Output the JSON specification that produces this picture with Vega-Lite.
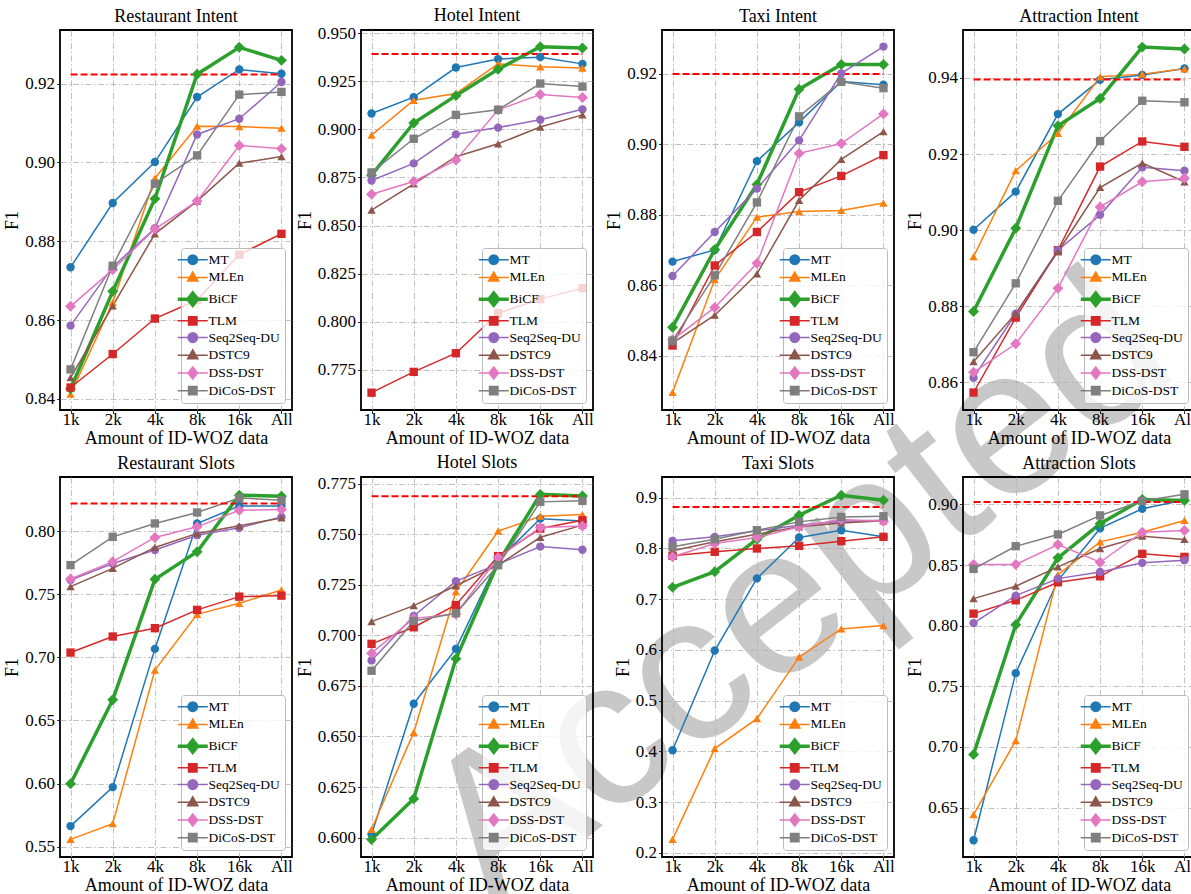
{
"$schema": "https://vega.github.io/schema/vega-lite/v6.json",
"background": "white",
"padding": {"left": 2, "top": 6, "right": 0, "bottom": 0},
"columns": 4,
"bounds": "flush",
"spacing": {"row": 67, "column": 69},
"resolve": {"legend": {"color": "independent"}},
"datasets": {
"refs": [
{"panel":"RI","f1":0.9223},{"panel":"HI","f1":0.9391},{"panel":"TI","f1":0.9199},{"panel":"AI","f1":0.9396},
{"panel":"RS","f1":0.8219},{"panel":"HS","f1":0.7688},{"panel":"TS","f1":0.8817},{"panel":"AS","f1":0.9019}
],
"scores": [
{"panel":"RI","model":"MT","size":"1k","f1":0.8734},{"panel":"RI","model":"MT","size":"2k","f1":0.8897},{"panel":"RI","model":"MT","size":"4k","f1":0.9001},{"panel":"RI","model":"MT","size":"8k","f1":0.9166},{"panel":"RI","model":"MT","size":"16k","f1":0.9236},{"panel":"RI","model":"MT","size":"All","f1":0.9225},
{"panel":"RI","model":"MLEn","size":"1k","f1":0.8412},{"panel":"RI","model":"MLEn","size":"2k","f1":0.8645},{"panel":"RI","model":"MLEn","size":"4k","f1":0.8960},{"panel":"RI","model":"MLEn","size":"8k","f1":0.9092},{"panel":"RI","model":"MLEn","size":"16k","f1":0.9091},{"panel":"RI","model":"MLEn","size":"All","f1":0.9087},
{"panel":"RI","model":"BiCF","size":"1k","f1":0.8426},{"panel":"RI","model":"BiCF","size":"2k","f1":0.8673},{"panel":"RI","model":"BiCF","size":"4k","f1":0.8908},{"panel":"RI","model":"BiCF","size":"8k","f1":0.9224},{"panel":"RI","model":"BiCF","size":"16k","f1":0.9292},{"panel":"RI","model":"BiCF","size":"All","f1":0.9259},
{"panel":"RI","model":"TLM","size":"1k","f1":0.8429},{"panel":"RI","model":"TLM","size":"2k","f1":0.8514},{"panel":"RI","model":"TLM","size":"4k","f1":0.8604},{"panel":"RI","model":"TLM","size":"8k","f1":0.8651},{"panel":"RI","model":"TLM","size":"16k","f1":0.8766},{"panel":"RI","model":"TLM","size":"All","f1":0.8819},
{"panel":"RI","model":"Seq2Seq-DU","size":"1k","f1":0.8586},{"panel":"RI","model":"Seq2Seq-DU","size":"2k","f1":0.8735},{"panel":"RI","model":"Seq2Seq-DU","size":"4k","f1":0.8833},{"panel":"RI","model":"Seq2Seq-DU","size":"8k","f1":0.9071},{"panel":"RI","model":"Seq2Seq-DU","size":"16k","f1":0.9111},{"panel":"RI","model":"Seq2Seq-DU","size":"All","f1":0.9204},
{"panel":"RI","model":"DSTC9","size":"1k","f1":0.8454},{"panel":"RI","model":"DSTC9","size":"2k","f1":0.8636},{"panel":"RI","model":"DSTC9","size":"4k","f1":0.8819},{"panel":"RI","model":"DSTC9","size":"8k","f1":0.8902},{"panel":"RI","model":"DSTC9","size":"16k","f1":0.8998},{"panel":"RI","model":"DSTC9","size":"All","f1":0.9015},
{"panel":"RI","model":"DSS-DST","size":"1k","f1":0.8635},{"panel":"RI","model":"DSS-DST","size":"2k","f1":0.8728},{"panel":"RI","model":"DSS-DST","size":"4k","f1":0.8831},{"panel":"RI","model":"DSS-DST","size":"8k","f1":0.8902},{"panel":"RI","model":"DSS-DST","size":"16k","f1":0.9043},{"panel":"RI","model":"DSS-DST","size":"All","f1":0.9035},
{"panel":"RI","model":"DiCoS-DST","size":"1k","f1":0.8475},{"panel":"RI","model":"DiCoS-DST","size":"2k","f1":0.8738},{"panel":"RI","model":"DiCoS-DST","size":"4k","f1":0.8946},{"panel":"RI","model":"DiCoS-DST","size":"8k","f1":0.9018},{"panel":"RI","model":"DiCoS-DST","size":"16k","f1":0.9172},{"panel":"RI","model":"DiCoS-DST","size":"All","f1":0.9179},

{"panel":"HI","model":"MT","size":"1k","f1":0.9082},{"panel":"HI","model":"MT","size":"2k","f1":0.9167},{"panel":"HI","model":"MT","size":"4k","f1":0.9321},{"panel":"HI","model":"MT","size":"8k","f1":0.9365},{"panel":"HI","model":"MT","size":"16k","f1":0.9375},{"panel":"HI","model":"MT","size":"All","f1":0.9340},
{"panel":"HI","model":"MLEn","size":"1k","f1":0.8970},{"panel":"HI","model":"MLEn","size":"2k","f1":0.9151},{"panel":"HI","model":"MLEn","size":"4k","f1":0.9186},{"panel":"HI","model":"MLEn","size":"8k","f1":0.9340},{"panel":"HI","model":"MLEn","size":"16k","f1":0.9325},{"panel":"HI","model":"MLEn","size":"All","f1":0.9318},
{"panel":"HI","model":"BiCF","size":"1k","f1":0.8762},{"panel":"HI","model":"BiCF","size":"2k","f1":0.9033},{"panel":"HI","model":"BiCF","size":"4k","f1":0.9175},{"panel":"HI","model":"BiCF","size":"8k","f1":0.9312},{"panel":"HI","model":"BiCF","size":"16k","f1":0.9429},{"panel":"HI","model":"BiCF","size":"All","f1":0.9422},
{"panel":"HI","model":"TLM","size":"1k","f1":0.7632},{"panel":"HI","model":"TLM","size":"2k","f1":0.7740},{"panel":"HI","model":"TLM","size":"4k","f1":0.7837},{"panel":"HI","model":"TLM","size":"8k","f1":0.8045},{"panel":"HI","model":"TLM","size":"16k","f1":0.8118},{"panel":"HI","model":"TLM","size":"All","f1":0.8175},
{"panel":"HI","model":"Seq2Seq-DU","size":"1k","f1":0.8734},{"panel":"HI","model":"Seq2Seq-DU","size":"2k","f1":0.8823},{"panel":"HI","model":"Seq2Seq-DU","size":"4k","f1":0.8974},{"panel":"HI","model":"Seq2Seq-DU","size":"8k","f1":0.9009},{"panel":"HI","model":"Seq2Seq-DU","size":"16k","f1":0.9050},{"panel":"HI","model":"Seq2Seq-DU","size":"All","f1":0.9104},
{"panel":"HI","model":"DSTC9","size":"1k","f1":0.8580},{"panel":"HI","model":"DSTC9","size":"2k","f1":0.8717},{"panel":"HI","model":"DSTC9","size":"4k","f1":0.8858},{"panel":"HI","model":"DSTC9","size":"8k","f1":0.8925},{"panel":"HI","model":"DSTC9","size":"16k","f1":0.9012},{"panel":"HI","model":"DSTC9","size":"All","f1":0.9075},
{"panel":"HI","model":"DSS-DST","size":"1k","f1":0.8663},{"panel":"HI","model":"DSS-DST","size":"2k","f1":0.8729},{"panel":"HI","model":"DSS-DST","size":"4k","f1":0.8840},{"panel":"HI","model":"DSS-DST","size":"8k","f1":0.9101},{"panel":"HI","model":"DSS-DST","size":"16k","f1":0.9181},{"panel":"HI","model":"DSS-DST","size":"All","f1":0.9165},
{"panel":"HI","model":"DiCoS-DST","size":"1k","f1":0.8776},{"panel":"HI","model":"DiCoS-DST","size":"2k","f1":0.8951},{"panel":"HI","model":"DiCoS-DST","size":"4k","f1":0.9075},{"panel":"HI","model":"DiCoS-DST","size":"8k","f1":0.9102},{"panel":"HI","model":"DiCoS-DST","size":"16k","f1":0.9238},{"panel":"HI","model":"DiCoS-DST","size":"All","f1":0.9222},

{"panel":"TI","model":"MT","size":"1k","f1":0.8667},{"panel":"TI","model":"MT","size":"2k","f1":0.8700},{"panel":"TI","model":"MT","size":"4k","f1":0.8952},{"panel":"TI","model":"MT","size":"8k","f1":0.9062},{"panel":"TI","model":"MT","size":"16k","f1":0.9178},{"panel":"TI","model":"MT","size":"All","f1":0.9169},
{"panel":"TI","model":"MLEn","size":"1k","f1":0.8296},{"panel":"TI","model":"MLEn","size":"2k","f1":0.8616},{"panel":"TI","model":"MLEn","size":"4k","f1":0.8793},{"panel":"TI","model":"MLEn","size":"8k","f1":0.8809},{"panel":"TI","model":"MLEn","size":"16k","f1":0.8812},{"panel":"TI","model":"MLEn","size":"All","f1":0.8833},
{"panel":"TI","model":"BiCF","size":"1k","f1":0.8481},{"panel":"TI","model":"BiCF","size":"2k","f1":0.8701},{"panel":"TI","model":"BiCF","size":"4k","f1":0.8886},{"panel":"TI","model":"BiCF","size":"8k","f1":0.9156},{"panel":"TI","model":"BiCF","size":"16k","f1":0.9226},{"panel":"TI","model":"BiCF","size":"All","f1":0.9226},
{"panel":"TI","model":"TLM","size":"1k","f1":0.8429},{"panel":"TI","model":"TLM","size":"2k","f1":0.8656},{"panel":"TI","model":"TLM","size":"4k","f1":0.8751},{"panel":"TI","model":"TLM","size":"8k","f1":0.8864},{"panel":"TI","model":"TLM","size":"16k","f1":0.8910},{"panel":"TI","model":"TLM","size":"All","f1":0.8969},
{"panel":"TI","model":"Seq2Seq-DU","size":"1k","f1":0.8626},{"panel":"TI","model":"Seq2Seq-DU","size":"2k","f1":0.8751},{"panel":"TI","model":"Seq2Seq-DU","size":"4k","f1":0.8874},{"panel":"TI","model":"Seq2Seq-DU","size":"8k","f1":0.9011},{"panel":"TI","model":"Seq2Seq-DU","size":"16k","f1":0.9201},{"panel":"TI","model":"Seq2Seq-DU","size":"All","f1":0.9277},
{"panel":"TI","model":"DSTC9","size":"1k","f1":0.8436},{"panel":"TI","model":"DSTC9","size":"2k","f1":0.8515},{"panel":"TI","model":"DSTC9","size":"4k","f1":0.8632},{"panel":"TI","model":"DSTC9","size":"8k","f1":0.8841},{"panel":"TI","model":"DSTC9","size":"16k","f1":0.8957},{"panel":"TI","model":"DSTC9","size":"All","f1":0.9036},
{"panel":"TI","model":"DSS-DST","size":"1k","f1":0.8445},{"panel":"TI","model":"DSS-DST","size":"2k","f1":0.8537},{"panel":"TI","model":"DSS-DST","size":"4k","f1":0.8662},{"panel":"TI","model":"DSS-DST","size":"8k","f1":0.8974},{"panel":"TI","model":"DSS-DST","size":"16k","f1":0.9002},{"panel":"TI","model":"DSS-DST","size":"All","f1":0.9086},
{"panel":"TI","model":"DiCoS-DST","size":"1k","f1":0.8443},{"panel":"TI","model":"DiCoS-DST","size":"2k","f1":0.8628},{"panel":"TI","model":"DiCoS-DST","size":"4k","f1":0.8835},{"panel":"TI","model":"DiCoS-DST","size":"8k","f1":0.9079},{"panel":"TI","model":"DiCoS-DST","size":"16k","f1":0.9177},{"panel":"TI","model":"DiCoS-DST","size":"All","f1":0.9159},

{"panel":"AI","model":"MT","size":"1k","f1":0.9001},{"panel":"AI","model":"MT","size":"2k","f1":0.9101},{"panel":"AI","model":"MT","size":"4k","f1":0.9305},{"panel":"AI","model":"MT","size":"8k","f1":0.9395},{"panel":"AI","model":"MT","size":"16k","f1":0.9408},{"panel":"AI","model":"MT","size":"All","f1":0.9425},
{"panel":"AI","model":"MLEn","size":"1k","f1":0.8930},{"panel":"AI","model":"MLEn","size":"2k","f1":0.9156},{"panel":"AI","model":"MLEn","size":"4k","f1":0.9254},{"panel":"AI","model":"MLEn","size":"8k","f1":0.9403},{"panel":"AI","model":"MLEn","size":"16k","f1":0.9410},{"panel":"AI","model":"MLEn","size":"All","f1":0.9424},
{"panel":"AI","model":"BiCF","size":"1k","f1":0.8786},{"panel":"AI","model":"BiCF","size":"2k","f1":0.9005},{"panel":"AI","model":"BiCF","size":"4k","f1":0.9274},{"panel":"AI","model":"BiCF","size":"8k","f1":0.9346},{"panel":"AI","model":"BiCF","size":"16k","f1":0.9481},{"panel":"AI","model":"BiCF","size":"All","f1":0.9476},
{"panel":"AI","model":"TLM","size":"1k","f1":0.8573},{"panel":"AI","model":"TLM","size":"2k","f1":0.8770},{"panel":"AI","model":"TLM","size":"4k","f1":0.8947},{"panel":"AI","model":"TLM","size":"8k","f1":0.9167},{"panel":"AI","model":"TLM","size":"16k","f1":0.9233},{"panel":"AI","model":"TLM","size":"All","f1":0.9219},
{"panel":"AI","model":"Seq2Seq-DU","size":"1k","f1":0.8612},{"panel":"AI","model":"Seq2Seq-DU","size":"2k","f1":0.8780},{"panel":"AI","model":"Seq2Seq-DU","size":"4k","f1":0.8947},{"panel":"AI","model":"Seq2Seq-DU","size":"8k","f1":0.9040},{"panel":"AI","model":"Seq2Seq-DU","size":"16k","f1":0.9165},{"panel":"AI","model":"Seq2Seq-DU","size":"All","f1":0.9156},
{"panel":"AI","model":"DSTC9","size":"1k","f1":0.8654},{"panel":"AI","model":"DSTC9","size":"2k","f1":0.8781},{"panel":"AI","model":"DSTC9","size":"4k","f1":0.8943},{"panel":"AI","model":"DSTC9","size":"8k","f1":0.9112},{"panel":"AI","model":"DSTC9","size":"16k","f1":0.9176},{"panel":"AI","model":"DSTC9","size":"All","f1":0.9127},
{"panel":"AI","model":"DSS-DST","size":"1k","f1":0.8626},{"panel":"AI","model":"DSS-DST","size":"2k","f1":0.8701},{"panel":"AI","model":"DSS-DST","size":"4k","f1":0.8847},{"panel":"AI","model":"DSS-DST","size":"8k","f1":0.9061},{"panel":"AI","model":"DSS-DST","size":"16k","f1":0.9127},{"panel":"AI","model":"DSS-DST","size":"All","f1":0.9136},
{"panel":"AI","model":"DiCoS-DST","size":"1k","f1":0.8679},{"panel":"AI","model":"DiCoS-DST","size":"2k","f1":0.8860},{"panel":"AI","model":"DiCoS-DST","size":"4k","f1":0.9077},{"panel":"AI","model":"DiCoS-DST","size":"8k","f1":0.9234},{"panel":"AI","model":"DiCoS-DST","size":"16k","f1":0.9340},{"panel":"AI","model":"DiCoS-DST","size":"All","f1":0.9336},

{"panel":"RS","model":"MT","size":"1k","f1":0.5663},{"panel":"RS","model":"MT","size":"2k","f1":0.5972},{"panel":"RS","model":"MT","size":"4k","f1":0.7067},{"panel":"RS","model":"MT","size":"8k","f1":0.8061},{"panel":"RS","model":"MT","size":"16k","f1":0.8200},{"panel":"RS","model":"MT","size":"All","f1":0.8200},
{"panel":"RS","model":"MLEn","size":"1k","f1":0.5558},{"panel":"RS","model":"MLEn","size":"2k","f1":0.5682},{"panel":"RS","model":"MLEn","size":"4k","f1":0.6899},{"panel":"RS","model":"MLEn","size":"8k","f1":0.7341},{"panel":"RS","model":"MLEn","size":"16k","f1":0.7428},{"panel":"RS","model":"MLEn","size":"All","f1":0.7534},
{"panel":"RS","model":"BiCF","size":"1k","f1":0.5998},{"panel":"RS","model":"BiCF","size":"2k","f1":0.6664},{"panel":"RS","model":"BiCF","size":"4k","f1":0.7618},{"panel":"RS","model":"BiCF","size":"8k","f1":0.7837},{"panel":"RS","model":"BiCF","size":"16k","f1":0.8285},{"panel":"RS","model":"BiCF","size":"All","f1":0.8277},
{"panel":"RS","model":"TLM","size":"1k","f1":0.7038},{"panel":"RS","model":"TLM","size":"2k","f1":0.7165},{"panel":"RS","model":"TLM","size":"4k","f1":0.7231},{"panel":"RS","model":"TLM","size":"8k","f1":0.7376},{"panel":"RS","model":"TLM","size":"16k","f1":0.7481},{"panel":"RS","model":"TLM","size":"All","f1":0.7489},
{"panel":"RS","model":"Seq2Seq-DU","size":"1k","f1":0.7613},{"panel":"RS","model":"Seq2Seq-DU","size":"2k","f1":0.7744},{"panel":"RS","model":"Seq2Seq-DU","size":"4k","f1":0.7850},{"panel":"RS","model":"Seq2Seq-DU","size":"8k","f1":0.7968},{"panel":"RS","model":"Seq2Seq-DU","size":"16k","f1":0.8026},{"panel":"RS","model":"Seq2Seq-DU","size":"All","f1":0.8113},
{"panel":"RS","model":"DSTC9","size":"1k","f1":0.7560},{"panel":"RS","model":"DSTC9","size":"2k","f1":0.7705},{"panel":"RS","model":"DSTC9","size":"4k","f1":0.7871},{"panel":"RS","model":"DSTC9","size":"8k","f1":0.7982},{"panel":"RS","model":"DSTC9","size":"16k","f1":0.8042},{"panel":"RS","model":"DSTC9","size":"All","f1":0.8105},
{"panel":"RS","model":"DSS-DST","size":"1k","f1":0.7621},{"panel":"RS","model":"DSS-DST","size":"2k","f1":0.7758},{"panel":"RS","model":"DSS-DST","size":"4k","f1":0.7950},{"panel":"RS","model":"DSS-DST","size":"8k","f1":0.8034},{"panel":"RS","model":"DSS-DST","size":"16k","f1":0.8166},{"panel":"RS","model":"DSS-DST","size":"All","f1":0.8171},
{"panel":"RS","model":"DiCoS-DST","size":"1k","f1":0.7731},{"panel":"RS","model":"DiCoS-DST","size":"2k","f1":0.7955},{"panel":"RS","model":"DiCoS-DST","size":"4k","f1":0.8061},{"panel":"RS","model":"DiCoS-DST","size":"8k","f1":0.8148},{"panel":"RS","model":"DiCoS-DST","size":"16k","f1":0.8263},{"panel":"RS","model":"DiCoS-DST","size":"All","f1":0.8245},

{"panel":"HS","model":"MT","size":"1k","f1":0.6016},{"panel":"HS","model":"MT","size":"2k","f1":0.6662},{"panel":"HS","model":"MT","size":"4k","f1":0.6933},{"panel":"HS","model":"MT","size":"8k","f1":0.7372},{"panel":"HS","model":"MT","size":"16k","f1":0.7577},{"panel":"HS","model":"MT","size":"All","f1":0.7566},
{"panel":"HS","model":"MLEn","size":"1k","f1":0.6041},{"panel":"HS","model":"MLEn","size":"2k","f1":0.6520},{"panel":"HS","model":"MLEn","size":"4k","f1":0.7216},{"panel":"HS","model":"MLEn","size":"8k","f1":0.7515},{"panel":"HS","model":"MLEn","size":"16k","f1":0.7589},{"panel":"HS","model":"MLEn","size":"All","f1":0.7597},
{"panel":"HS","model":"BiCF","size":"1k","f1":0.5990},{"panel":"HS","model":"BiCF","size":"2k","f1":0.6192},{"panel":"HS","model":"BiCF","size":"4k","f1":0.6884},{"panel":"HS","model":"BiCF","size":"8k","f1":0.7359},{"panel":"HS","model":"BiCF","size":"16k","f1":0.7697},{"panel":"HS","model":"BiCF","size":"All","f1":0.7689},
{"panel":"HS","model":"TLM","size":"1k","f1":0.6958},{"panel":"HS","model":"TLM","size":"2k","f1":0.7040},{"panel":"HS","model":"TLM","size":"4k","f1":0.7150},{"panel":"HS","model":"TLM","size":"8k","f1":0.7392},{"panel":"HS","model":"TLM","size":"16k","f1":0.7528},{"panel":"HS","model":"TLM","size":"All","f1":0.7569},
{"panel":"HS","model":"Seq2Seq-DU","size":"1k","f1":0.6876},{"panel":"HS","model":"Seq2Seq-DU","size":"2k","f1":0.7096},{"panel":"HS","model":"Seq2Seq-DU","size":"4k","f1":0.7268},{"panel":"HS","model":"Seq2Seq-DU","size":"8k","f1":0.7352},{"panel":"HS","model":"Seq2Seq-DU","size":"16k","f1":0.7439},{"panel":"HS","model":"Seq2Seq-DU","size":"All","f1":0.7423},
{"panel":"HS","model":"DSTC9","size":"1k","f1":0.7068},{"panel":"HS","model":"DSTC9","size":"2k","f1":0.7147},{"panel":"HS","model":"DSTC9","size":"4k","f1":0.7245},{"panel":"HS","model":"DSTC9","size":"8k","f1":0.7347},{"panel":"HS","model":"DSTC9","size":"16k","f1":0.7485},{"panel":"HS","model":"DSTC9","size":"All","f1":0.7545},
{"panel":"HS","model":"DSS-DST","size":"1k","f1":0.6912},{"panel":"HS","model":"DSS-DST","size":"2k","f1":0.7084},{"panel":"HS","model":"DSS-DST","size":"4k","f1":0.7106},{"panel":"HS","model":"DSS-DST","size":"8k","f1":0.7385},{"panel":"HS","model":"DSS-DST","size":"16k","f1":0.7533},{"panel":"HS","model":"DSS-DST","size":"All","f1":0.7541},
{"panel":"HS","model":"DiCoS-DST","size":"1k","f1":0.6825},{"panel":"HS","model":"DiCoS-DST","size":"2k","f1":0.7071},{"panel":"HS","model":"DiCoS-DST","size":"4k","f1":0.7109},{"panel":"HS","model":"DiCoS-DST","size":"8k","f1":0.7347},{"panel":"HS","model":"DiCoS-DST","size":"16k","f1":0.7660},{"panel":"HS","model":"DiCoS-DST","size":"All","f1":0.7665},

{"panel":"TS","model":"MT","size":"1k","f1":0.4023},{"panel":"TS","model":"MT","size":"2k","f1":0.5988},{"panel":"TS","model":"MT","size":"4k","f1":0.7409},{"panel":"TS","model":"MT","size":"8k","f1":0.8214},{"panel":"TS","model":"MT","size":"16k","f1":0.8358},{"panel":"TS","model":"MT","size":"All","f1":0.8227},
{"panel":"TS","model":"MLEn","size":"1k","f1":0.2268},{"panel":"TS","model":"MLEn","size":"2k","f1":0.4056},{"panel":"TS","model":"MLEn","size":"4k","f1":0.4645},{"panel":"TS","model":"MLEn","size":"8k","f1":0.5857},{"panel":"TS","model":"MLEn","size":"16k","f1":0.6413},{"panel":"TS","model":"MLEn","size":"All","f1":0.6479},
{"panel":"TS","model":"BiCF","size":"1k","f1":0.7232},{"panel":"TS","model":"BiCF","size":"2k","f1":0.7540},{"panel":"TS","model":"BiCF","size":"4k","f1":0.8181},{"panel":"TS","model":"BiCF","size":"8k","f1":0.8653},{"panel":"TS","model":"BiCF","size":"16k","f1":0.9046},{"panel":"TS","model":"BiCF","size":"All","f1":0.8948},
{"panel":"TS","model":"TLM","size":"1k","f1":0.7854},{"panel":"TS","model":"TLM","size":"2k","f1":0.7933},{"panel":"TS","model":"TLM","size":"4k","f1":0.7998},{"panel":"TS","model":"TLM","size":"8k","f1":0.8050},{"panel":"TS","model":"TLM","size":"16k","f1":0.8142},{"panel":"TS","model":"TLM","size":"All","f1":0.8227},
{"panel":"TS","model":"Seq2Seq-DU","size":"1k","f1":0.8149},{"panel":"TS","model":"Seq2Seq-DU","size":"2k","f1":0.8227},{"panel":"TS","model":"Seq2Seq-DU","size":"4k","f1":0.8345},{"panel":"TS","model":"Seq2Seq-DU","size":"8k","f1":0.8456},{"panel":"TS","model":"Seq2Seq-DU","size":"16k","f1":0.8535},{"panel":"TS","model":"Seq2Seq-DU","size":"All","f1":0.8555},
{"panel":"TS","model":"DSTC9","size":"1k","f1":0.7952},{"panel":"TS","model":"DSTC9","size":"2k","f1":0.8129},{"panel":"TS","model":"DSTC9","size":"4k","f1":0.8280},{"panel":"TS","model":"DSTC9","size":"8k","f1":0.8424},{"panel":"TS","model":"DSTC9","size":"16k","f1":0.8502},{"panel":"TS","model":"DSTC9","size":"All","f1":0.8542},
{"panel":"TS","model":"DSS-DST","size":"1k","f1":0.7834},{"panel":"TS","model":"DSS-DST","size":"2k","f1":0.8096},{"panel":"TS","model":"DSS-DST","size":"4k","f1":0.8214},{"panel":"TS","model":"DSS-DST","size":"8k","f1":0.8424},{"panel":"TS","model":"DSS-DST","size":"16k","f1":0.8568},{"panel":"TS","model":"DSS-DST","size":"All","f1":0.8535},
{"panel":"TS","model":"DiCoS-DST","size":"1k","f1":0.8031},{"panel":"TS","model":"DiCoS-DST","size":"2k","f1":0.8181},{"panel":"TS","model":"DiCoS-DST","size":"4k","f1":0.8358},{"panel":"TS","model":"DiCoS-DST","size":"8k","f1":0.8522},{"panel":"TS","model":"DiCoS-DST","size":"16k","f1":0.8620},{"panel":"TS","model":"DiCoS-DST","size":"All","f1":0.8633},

{"panel":"AS","model":"MT","size":"1k","f1":0.6230},{"panel":"AS","model":"MT","size":"2k","f1":0.7608},{"panel":"AS","model":"MT","size":"4k","f1":0.8372},{"panel":"AS","model":"MT","size":"8k","f1":0.8802},{"panel":"AS","model":"MT","size":"16k","f1":0.8964},{"panel":"AS","model":"MT","size":"All","f1":0.9036},
{"panel":"AS","model":"MLEn","size":"1k","f1":0.6442},{"panel":"AS","model":"MLEn","size":"2k","f1":0.7051},{"panel":"AS","model":"MLEn","size":"4k","f1":0.8421},{"panel":"AS","model":"MLEn","size":"8k","f1":0.8691},{"panel":"AS","model":"MLEn","size":"16k","f1":0.8771},{"panel":"AS","model":"MLEn","size":"All","f1":0.8868},
{"panel":"AS","model":"BiCF","size":"1k","f1":0.6938},{"panel":"AS","model":"BiCF","size":"2k","f1":0.8008},{"panel":"AS","model":"BiCF","size":"4k","f1":0.8559},{"panel":"AS","model":"BiCF","size":"8k","f1":0.8840},{"panel":"AS","model":"BiCF","size":"16k","f1":0.9041},{"panel":"AS","model":"BiCF","size":"All","f1":0.9033},
{"panel":"AS","model":"TLM","size":"1k","f1":0.8099},{"panel":"AS","model":"TLM","size":"2k","f1":0.8209},{"panel":"AS","model":"TLM","size":"4k","f1":0.8358},{"panel":"AS","model":"TLM","size":"8k","f1":0.8407},{"panel":"AS","model":"TLM","size":"16k","f1":0.8592},{"panel":"AS","model":"TLM","size":"All","f1":0.8567},
{"panel":"AS","model":"Seq2Seq-DU","size":"1k","f1":0.8021},{"panel":"AS","model":"Seq2Seq-DU","size":"2k","f1":0.8248},{"panel":"AS","model":"Seq2Seq-DU","size":"4k","f1":0.8388},{"panel":"AS","model":"Seq2Seq-DU","size":"8k","f1":0.8443},{"panel":"AS","model":"Seq2Seq-DU","size":"16k","f1":0.8518},{"panel":"AS","model":"Seq2Seq-DU","size":"All","f1":0.8540},
{"panel":"AS","model":"DSTC9","size":"1k","f1":0.8223},{"panel":"AS","model":"DSTC9","size":"2k","f1":0.8325},{"panel":"AS","model":"DSTC9","size":"4k","f1":0.8485},{"panel":"AS","model":"DSTC9","size":"8k","f1":0.8636},{"panel":"AS","model":"DSTC9","size":"16k","f1":0.8738},{"panel":"AS","model":"DSTC9","size":"All","f1":0.8711},
{"panel":"AS","model":"DSS-DST","size":"1k","f1":0.8504},{"panel":"AS","model":"DSS-DST","size":"2k","f1":0.8504},{"panel":"AS","model":"DSS-DST","size":"4k","f1":0.8669},{"panel":"AS","model":"DSS-DST","size":"8k","f1":0.8523},{"panel":"AS","model":"DSS-DST","size":"16k","f1":0.8771},{"panel":"AS","model":"DSS-DST","size":"All","f1":0.8785},
{"panel":"AS","model":"DiCoS-DST","size":"1k","f1":0.8468},{"panel":"AS","model":"DiCoS-DST","size":"2k","f1":0.8655},{"panel":"AS","model":"DiCoS-DST","size":"4k","f1":0.8752},{"panel":"AS","model":"DiCoS-DST","size":"8k","f1":0.8909},{"panel":"AS","model":"DiCoS-DST","size":"16k","f1":0.9028},{"panel":"AS","model":"DiCoS-DST","size":"All","f1":0.9083}
]
},
"concat": [
{"title": "Restaurant Intent", "width": 232, "height": 380, "layer": [
 {"data": {"name": "scores"}, "transform": [{"filter": "datum.panel === 'RI'"}], "mark": {"type": "line"},
  "encoding": {
   "x": {"field": "size", "type": "ordinal", "scale": {"type": "point", "domain": ["1k","2k","4k","8k","16k","All"], "padding": 0.25}, "axis": {"title": "Amount of ID-WOZ data"}},
   "y": {"field": "f1", "type": "quantitative", "scale": {"domain": [0.8372, 0.9336], "nice": false, "zero": false}, "axis": {"title": "F1", "values": [0.84,0.86,0.88,0.90,0.92], "format": ".2f"}},
   "color": {"field": "model", "type": "nominal", "scale": {"domain": ["MT","MLEn","BiCF","TLM","Seq2Seq-DU","DSTC9","DSS-DST","DiCoS-DST"], "range": ["#1f77b4","#ff7f0e","#2ca02c","#d62728","#9467bd","#8c564b","#e377c2","#7f7f7f"]},
    "legend": {"title": null, "labelFont": "Liberation Serif", "encode": {"symbols": {"update": {"shape": {"signal": "indexof(['MT','Seq2Seq-DU'], datum.value) >= 0 ? 'M-1,0H1M0.32,0L0.277,0.16L0.16,0.277L0,0.32L-0.16,0.277L-0.277,0.16L-0.32,0L-0.277,-0.16L-0.16,-0.277L0,-0.32L0.16,-0.277L0.277,-0.16Z' : indexof(['MLEn','DSTC9'], datum.value) >= 0 ? 'M-1,0H1M0,-0.36L0.34,0.24L-0.34,0.24Z' : indexof(['BiCF','DSS-DST'], datum.value) >= 0 ? 'M-1,0H1M0,-0.4L0.32,0L0,0.4L-0.32,0Z' : 'M-1,0H1M-0.28,-0.28H0.28V0.28H-0.28Z'"}, "strokeWidth": {"signal": "datum.value === 'BiCF' ? 3.5 : 1.5"}, "fill": {"scale": "color", "field": "value"}, "stroke": {"scale": "color", "field": "value"}, "opacity": {"value": 1}}}}}},
   "strokeWidth": {"condition": {"test": "datum.model === 'BiCF'", "value": 3.5}, "value": 1.5}}},
 {"data": {"name": "refs"}, "transform": [{"filter": "datum.panel === 'RI'"}], "mark": {"type": "rule", "color": "#ff0000", "strokeWidth": 2, "strokeDash": [7, 3]},
  "encoding": {"x": {"datum": "1k", "type": "ordinal"}, "x2": {"datum": "All"}, "y": {"field": "f1", "type": "quantitative"}}},
 {"data": {"name": "scores"}, "transform": [{"filter": "datum.panel === 'RI'"}], "mark": {"type": "point", "filled": true, "opacity": 1},
  "encoding": {"x": {"field": "size", "type": "ordinal"}, "y": {"field": "f1", "type": "quantitative"}, "color": {"field": "model", "type": "nominal"},
   "shape": {"field": "model", "type": "nominal", "scale": {"domain": ["MT","MLEn","BiCF","TLM","Seq2Seq-DU","DSTC9","DSS-DST","DiCoS-DST"], "range": ["circle","triangle-up","diamond","square","circle","triangle-up","diamond","square"]}, "legend": null},
   "size": {"condition": {"test": "datum.model === 'BiCF' || datum.model === 'DSS-DST'", "value": 120}, "value": 70}}}
]},
{"title": {"text": "Hotel Intent", "offset": -1.4}, "width": 232, "height": 380, "layer": [
 {"data": {"name": "scores"}, "transform": [{"filter": "datum.panel === 'HI'"}], "mark": {"type": "line"},
  "encoding": {
   "x": {"field": "size", "type": "ordinal", "scale": {"type": "point", "domain": ["1k","2k","4k","8k","16k","All"], "padding": 0.25}, "axis": {"title": "Amount of ID-WOZ data"}},
   "y": {"field": "f1", "type": "quantitative", "scale": {"domain": [0.7542, 0.9516], "nice": false, "zero": false}, "axis": {"title": "F1", "values": [0.775,0.8,0.825,0.85,0.875,0.9,0.925,0.95], "format": ".3f"}},
   "color": {"field": "model", "type": "nominal", "scale": {"domain": ["MT","MLEn","BiCF","TLM","Seq2Seq-DU","DSTC9","DSS-DST","DiCoS-DST"], "range": ["#1f77b4","#ff7f0e","#2ca02c","#d62728","#9467bd","#8c564b","#e377c2","#7f7f7f"]},
    "legend": {"title": null, "labelFont": "Liberation Serif", "encode": {"symbols": {"update": {"shape": {"signal": "indexof(['MT','Seq2Seq-DU'], datum.value) >= 0 ? 'M-1,0H1M0.32,0L0.277,0.16L0.16,0.277L0,0.32L-0.16,0.277L-0.277,0.16L-0.32,0L-0.277,-0.16L-0.16,-0.277L0,-0.32L0.16,-0.277L0.277,-0.16Z' : indexof(['MLEn','DSTC9'], datum.value) >= 0 ? 'M-1,0H1M0,-0.36L0.34,0.24L-0.34,0.24Z' : indexof(['BiCF','DSS-DST'], datum.value) >= 0 ? 'M-1,0H1M0,-0.4L0.32,0L0,0.4L-0.32,0Z' : 'M-1,0H1M-0.28,-0.28H0.28V0.28H-0.28Z'"}, "strokeWidth": {"signal": "datum.value === 'BiCF' ? 3.5 : 1.5"}, "fill": {"scale": "color", "field": "value"}, "stroke": {"scale": "color", "field": "value"}, "opacity": {"value": 1}}}}}},
   "strokeWidth": {"condition": {"test": "datum.model === 'BiCF'", "value": 3.5}, "value": 1.5}}},
 {"data": {"name": "refs"}, "transform": [{"filter": "datum.panel === 'HI'"}], "mark": {"type": "rule", "color": "#ff0000", "strokeWidth": 2, "strokeDash": [7, 3]},
  "encoding": {"x": {"datum": "1k", "type": "ordinal"}, "x2": {"datum": "All"}, "y": {"field": "f1", "type": "quantitative"}}},
 {"data": {"name": "scores"}, "transform": [{"filter": "datum.panel === 'HI'"}], "mark": {"type": "point", "filled": true, "opacity": 1},
  "encoding": {"x": {"field": "size", "type": "ordinal"}, "y": {"field": "f1", "type": "quantitative"}, "color": {"field": "model", "type": "nominal"},
   "shape": {"field": "model", "type": "nominal", "scale": {"domain": ["MT","MLEn","BiCF","TLM","Seq2Seq-DU","DSTC9","DSS-DST","DiCoS-DST"], "range": ["circle","triangle-up","diamond","square","circle","triangle-up","diamond","square"]}, "legend": null},
   "size": {"condition": {"test": "datum.model === 'BiCF' || datum.model === 'DSS-DST'", "value": 120}, "value": 70}}}
]},
{"title": "Taxi Intent", "width": 232, "height": 380, "layer": [
 {"data": {"values": [{}]}, "mark": {"type": "text", "text": "Accepted", "font": "Liberation Sans", "fontSize": 210, "angle": -38, "align": "center", "baseline": "middle", "color": "#c8c8c8", "opacity": 1},
  "encoding": {"x": {"datum": "8k", "type": "ordinal"}, "y": {"datum": 0.773, "type": "quantitative"}}},
 {"data": {"name": "scores"}, "transform": [{"filter": "datum.panel === 'TI'"}], "mark": {"type": "line"},
  "encoding": {
   "x": {"field": "size", "type": "ordinal", "scale": {"type": "point", "domain": ["1k","2k","4k","8k","16k","All"], "padding": 0.25}, "axis": {"title": "Amount of ID-WOZ data"}},
   "y": {"field": "f1", "type": "quantitative", "scale": {"domain": [0.8246, 0.9324], "nice": false, "zero": false}, "axis": {"title": "F1", "values": [0.84,0.86,0.88,0.90,0.92], "format": ".2f"}},
   "color": {"field": "model", "type": "nominal", "scale": {"domain": ["MT","MLEn","BiCF","TLM","Seq2Seq-DU","DSTC9","DSS-DST","DiCoS-DST"], "range": ["#1f77b4","#ff7f0e","#2ca02c","#d62728","#9467bd","#8c564b","#e377c2","#7f7f7f"]},
    "legend": {"title": null, "labelFont": "Liberation Serif", "encode": {"symbols": {"update": {"shape": {"signal": "indexof(['MT','Seq2Seq-DU'], datum.value) >= 0 ? 'M-1,0H1M0.32,0L0.277,0.16L0.16,0.277L0,0.32L-0.16,0.277L-0.277,0.16L-0.32,0L-0.277,-0.16L-0.16,-0.277L0,-0.32L0.16,-0.277L0.277,-0.16Z' : indexof(['MLEn','DSTC9'], datum.value) >= 0 ? 'M-1,0H1M0,-0.36L0.34,0.24L-0.34,0.24Z' : indexof(['BiCF','DSS-DST'], datum.value) >= 0 ? 'M-1,0H1M0,-0.4L0.32,0L0,0.4L-0.32,0Z' : 'M-1,0H1M-0.28,-0.28H0.28V0.28H-0.28Z'"}, "strokeWidth": {"signal": "datum.value === 'BiCF' ? 3.5 : 1.5"}, "fill": {"scale": "color", "field": "value"}, "stroke": {"scale": "color", "field": "value"}, "opacity": {"value": 1}}}}}},
   "strokeWidth": {"condition": {"test": "datum.model === 'BiCF'", "value": 3.5}, "value": 1.5}}},
 {"data": {"name": "refs"}, "transform": [{"filter": "datum.panel === 'TI'"}], "mark": {"type": "rule", "color": "#ff0000", "strokeWidth": 2, "strokeDash": [7, 3]},
  "encoding": {"x": {"datum": "1k", "type": "ordinal"}, "x2": {"datum": "All"}, "y": {"field": "f1", "type": "quantitative"}}},
 {"data": {"name": "scores"}, "transform": [{"filter": "datum.panel === 'TI'"}], "mark": {"type": "point", "filled": true, "opacity": 1},
  "encoding": {"x": {"field": "size", "type": "ordinal"}, "y": {"field": "f1", "type": "quantitative"}, "color": {"field": "model", "type": "nominal"},
   "shape": {"field": "model", "type": "nominal", "scale": {"domain": ["MT","MLEn","BiCF","TLM","Seq2Seq-DU","DSTC9","DSS-DST","DiCoS-DST"], "range": ["circle","triangle-up","diamond","square","circle","triangle-up","diamond","square"]}, "legend": null},
   "size": {"condition": {"test": "datum.model === 'BiCF' || datum.model === 'DSS-DST'", "value": 120}, "value": 70}}}
]},
{"title": "Attraction Intent", "width": 232, "height": 380, "layer": [
 {"data": {"name": "scores"}, "transform": [{"filter": "datum.panel === 'AI'"}], "mark": {"type": "line"},
  "encoding": {
   "x": {"field": "size", "type": "ordinal", "scale": {"type": "point", "domain": ["1k","2k","4k","8k","16k","All"], "padding": 0.25}, "axis": {"title": "Amount of ID-WOZ data"}},
   "y": {"field": "f1", "type": "quantitative", "scale": {"domain": [0.8527, 0.9526], "nice": false, "zero": false}, "axis": {"title": "F1", "values": [0.86,0.88,0.90,0.92,0.94], "format": ".2f"}},
   "color": {"field": "model", "type": "nominal", "scale": {"domain": ["MT","MLEn","BiCF","TLM","Seq2Seq-DU","DSTC9","DSS-DST","DiCoS-DST"], "range": ["#1f77b4","#ff7f0e","#2ca02c","#d62728","#9467bd","#8c564b","#e377c2","#7f7f7f"]},
    "legend": {"title": null, "labelFont": "Liberation Serif", "encode": {"symbols": {"update": {"shape": {"signal": "indexof(['MT','Seq2Seq-DU'], datum.value) >= 0 ? 'M-1,0H1M0.32,0L0.277,0.16L0.16,0.277L0,0.32L-0.16,0.277L-0.277,0.16L-0.32,0L-0.277,-0.16L-0.16,-0.277L0,-0.32L0.16,-0.277L0.277,-0.16Z' : indexof(['MLEn','DSTC9'], datum.value) >= 0 ? 'M-1,0H1M0,-0.36L0.34,0.24L-0.34,0.24Z' : indexof(['BiCF','DSS-DST'], datum.value) >= 0 ? 'M-1,0H1M0,-0.4L0.32,0L0,0.4L-0.32,0Z' : 'M-1,0H1M-0.28,-0.28H0.28V0.28H-0.28Z'"}, "strokeWidth": {"signal": "datum.value === 'BiCF' ? 3.5 : 1.5"}, "fill": {"scale": "color", "field": "value"}, "stroke": {"scale": "color", "field": "value"}, "opacity": {"value": 1}}}}}},
   "strokeWidth": {"condition": {"test": "datum.model === 'BiCF'", "value": 3.5}, "value": 1.5}}},
 {"data": {"name": "refs"}, "transform": [{"filter": "datum.panel === 'AI'"}], "mark": {"type": "rule", "color": "#ff0000", "strokeWidth": 2, "strokeDash": [7, 3]},
  "encoding": {"x": {"datum": "1k", "type": "ordinal"}, "x2": {"datum": "All"}, "y": {"field": "f1", "type": "quantitative"}}},
 {"data": {"name": "scores"}, "transform": [{"filter": "datum.panel === 'AI'"}], "mark": {"type": "point", "filled": true, "opacity": 1},
  "encoding": {"x": {"field": "size", "type": "ordinal"}, "y": {"field": "f1", "type": "quantitative"}, "color": {"field": "model", "type": "nominal"},
   "shape": {"field": "model", "type": "nominal", "scale": {"domain": ["MT","MLEn","BiCF","TLM","Seq2Seq-DU","DSTC9","DSS-DST","DiCoS-DST"], "range": ["circle","triangle-up","diamond","square","circle","triangle-up","diamond","square"]}, "legend": null},
   "size": {"condition": {"test": "datum.model === 'BiCF' || datum.model === 'DSS-DST'", "value": 120}, "value": 70}}}
]},
{"title": "Restaurant Slots", "width": 232, "height": 380, "layer": [
 {"data": {"name": "scores"}, "transform": [{"filter": "datum.panel === 'RS'"}], "mark": {"type": "line"},
  "encoding": {
   "x": {"field": "size", "type": "ordinal", "scale": {"type": "point", "domain": ["1k","2k","4k","8k","16k","All"], "padding": 0.25}, "axis": {"title": "Amount of ID-WOZ data"}},
   "y": {"field": "f1", "type": "quantitative", "scale": {"domain": [0.5418, 0.8429], "nice": false, "zero": false}, "axis": {"title": "F1", "values": [0.55,0.6,0.65,0.7,0.75,0.8], "format": ".2f"}},
   "color": {"field": "model", "type": "nominal", "scale": {"domain": ["MT","MLEn","BiCF","TLM","Seq2Seq-DU","DSTC9","DSS-DST","DiCoS-DST"], "range": ["#1f77b4","#ff7f0e","#2ca02c","#d62728","#9467bd","#8c564b","#e377c2","#7f7f7f"]},
    "legend": {"title": null, "labelFont": "Liberation Serif", "encode": {"symbols": {"update": {"shape": {"signal": "indexof(['MT','Seq2Seq-DU'], datum.value) >= 0 ? 'M-1,0H1M0.32,0L0.277,0.16L0.16,0.277L0,0.32L-0.16,0.277L-0.277,0.16L-0.32,0L-0.277,-0.16L-0.16,-0.277L0,-0.32L0.16,-0.277L0.277,-0.16Z' : indexof(['MLEn','DSTC9'], datum.value) >= 0 ? 'M-1,0H1M0,-0.36L0.34,0.24L-0.34,0.24Z' : indexof(['BiCF','DSS-DST'], datum.value) >= 0 ? 'M-1,0H1M0,-0.4L0.32,0L0,0.4L-0.32,0Z' : 'M-1,0H1M-0.28,-0.28H0.28V0.28H-0.28Z'"}, "strokeWidth": {"signal": "datum.value === 'BiCF' ? 3.5 : 1.5"}, "fill": {"scale": "color", "field": "value"}, "stroke": {"scale": "color", "field": "value"}, "opacity": {"value": 1}}}}}},
   "strokeWidth": {"condition": {"test": "datum.model === 'BiCF'", "value": 3.5}, "value": 1.5}}},
 {"data": {"name": "refs"}, "transform": [{"filter": "datum.panel === 'RS'"}], "mark": {"type": "rule", "color": "#ff0000", "strokeWidth": 2, "strokeDash": [7, 3]},
  "encoding": {"x": {"datum": "1k", "type": "ordinal"}, "x2": {"datum": "All"}, "y": {"field": "f1", "type": "quantitative"}}},
 {"data": {"name": "scores"}, "transform": [{"filter": "datum.panel === 'RS'"}], "mark": {"type": "point", "filled": true, "opacity": 1},
  "encoding": {"x": {"field": "size", "type": "ordinal"}, "y": {"field": "f1", "type": "quantitative"}, "color": {"field": "model", "type": "nominal"},
   "shape": {"field": "model", "type": "nominal", "scale": {"domain": ["MT","MLEn","BiCF","TLM","Seq2Seq-DU","DSTC9","DSS-DST","DiCoS-DST"], "range": ["circle","triangle-up","diamond","square","circle","triangle-up","diamond","square"]}, "legend": null},
   "size": {"condition": {"test": "datum.model === 'BiCF' || datum.model === 'DSS-DST'", "value": 120}, "value": 70}}}
]},
{"title": {"text": "Hotel Slots", "offset": 2.2}, "width": 232, "height": 380, "layer": [
 {"data": {"name": "scores"}, "transform": [{"filter": "datum.panel === 'HS'"}], "mark": {"type": "line"},
  "encoding": {
   "x": {"field": "size", "type": "ordinal", "scale": {"type": "point", "domain": ["1k","2k","4k","8k","16k","All"], "padding": 0.25}, "axis": {"title": "Amount of ID-WOZ data"}},
   "y": {"field": "f1", "type": "quantitative", "scale": {"domain": [0.5904, 0.7783], "nice": false, "zero": false}, "axis": {"title": "F1", "values": [0.6,0.625,0.65,0.675,0.7,0.725,0.75,0.775], "format": ".3f"}},
   "color": {"field": "model", "type": "nominal", "scale": {"domain": ["MT","MLEn","BiCF","TLM","Seq2Seq-DU","DSTC9","DSS-DST","DiCoS-DST"], "range": ["#1f77b4","#ff7f0e","#2ca02c","#d62728","#9467bd","#8c564b","#e377c2","#7f7f7f"]},
    "legend": {"title": null, "labelFont": "Liberation Serif", "encode": {"symbols": {"update": {"shape": {"signal": "indexof(['MT','Seq2Seq-DU'], datum.value) >= 0 ? 'M-1,0H1M0.32,0L0.277,0.16L0.16,0.277L0,0.32L-0.16,0.277L-0.277,0.16L-0.32,0L-0.277,-0.16L-0.16,-0.277L0,-0.32L0.16,-0.277L0.277,-0.16Z' : indexof(['MLEn','DSTC9'], datum.value) >= 0 ? 'M-1,0H1M0,-0.36L0.34,0.24L-0.34,0.24Z' : indexof(['BiCF','DSS-DST'], datum.value) >= 0 ? 'M-1,0H1M0,-0.4L0.32,0L0,0.4L-0.32,0Z' : 'M-1,0H1M-0.28,-0.28H0.28V0.28H-0.28Z'"}, "strokeWidth": {"signal": "datum.value === 'BiCF' ? 3.5 : 1.5"}, "fill": {"scale": "color", "field": "value"}, "stroke": {"scale": "color", "field": "value"}, "opacity": {"value": 1}}}}}},
   "strokeWidth": {"condition": {"test": "datum.model === 'BiCF'", "value": 3.5}, "value": 1.5}}},
 {"data": {"name": "refs"}, "transform": [{"filter": "datum.panel === 'HS'"}], "mark": {"type": "rule", "color": "#ff0000", "strokeWidth": 2, "strokeDash": [7, 3]},
  "encoding": {"x": {"datum": "1k", "type": "ordinal"}, "x2": {"datum": "All"}, "y": {"field": "f1", "type": "quantitative"}}},
 {"data": {"name": "scores"}, "transform": [{"filter": "datum.panel === 'HS'"}], "mark": {"type": "point", "filled": true, "opacity": 1},
  "encoding": {"x": {"field": "size", "type": "ordinal"}, "y": {"field": "f1", "type": "quantitative"}, "color": {"field": "model", "type": "nominal"},
   "shape": {"field": "model", "type": "nominal", "scale": {"domain": ["MT","MLEn","BiCF","TLM","Seq2Seq-DU","DSTC9","DSS-DST","DiCoS-DST"], "range": ["circle","triangle-up","diamond","square","circle","triangle-up","diamond","square"]}, "legend": null},
   "size": {"condition": {"test": "datum.model === 'BiCF' || datum.model === 'DSS-DST'", "value": 120}, "value": 70}}}
]},
{"title": "Taxi Slots", "width": 232, "height": 380, "layer": [
 {"data": {"name": "scores"}, "transform": [{"filter": "datum.panel === 'TS'"}], "mark": {"type": "line"},
  "encoding": {
   "x": {"field": "size", "type": "ordinal", "scale": {"type": "point", "domain": ["1k","2k","4k","8k","16k","All"], "padding": 0.25}, "axis": {"title": "Amount of ID-WOZ data"}},
   "y": {"field": "f1", "type": "quantitative", "scale": {"domain": [0.1921, 0.9406], "nice": false, "zero": false}, "axis": {"title": "F1", "values": [0.2,0.3,0.4,0.5,0.6,0.7,0.8,0.9], "format": ".1f"}},
   "color": {"field": "model", "type": "nominal", "scale": {"domain": ["MT","MLEn","BiCF","TLM","Seq2Seq-DU","DSTC9","DSS-DST","DiCoS-DST"], "range": ["#1f77b4","#ff7f0e","#2ca02c","#d62728","#9467bd","#8c564b","#e377c2","#7f7f7f"]},
    "legend": {"title": null, "labelFont": "Liberation Serif", "encode": {"symbols": {"update": {"shape": {"signal": "indexof(['MT','Seq2Seq-DU'], datum.value) >= 0 ? 'M-1,0H1M0.32,0L0.277,0.16L0.16,0.277L0,0.32L-0.16,0.277L-0.277,0.16L-0.32,0L-0.277,-0.16L-0.16,-0.277L0,-0.32L0.16,-0.277L0.277,-0.16Z' : indexof(['MLEn','DSTC9'], datum.value) >= 0 ? 'M-1,0H1M0,-0.36L0.34,0.24L-0.34,0.24Z' : indexof(['BiCF','DSS-DST'], datum.value) >= 0 ? 'M-1,0H1M0,-0.4L0.32,0L0,0.4L-0.32,0Z' : 'M-1,0H1M-0.28,-0.28H0.28V0.28H-0.28Z'"}, "strokeWidth": {"signal": "datum.value === 'BiCF' ? 3.5 : 1.5"}, "fill": {"scale": "color", "field": "value"}, "stroke": {"scale": "color", "field": "value"}, "opacity": {"value": 1}}}}}},
   "strokeWidth": {"condition": {"test": "datum.model === 'BiCF'", "value": 3.5}, "value": 1.5}}},
 {"data": {"name": "refs"}, "transform": [{"filter": "datum.panel === 'TS'"}], "mark": {"type": "rule", "color": "#ff0000", "strokeWidth": 2, "strokeDash": [7, 3]},
  "encoding": {"x": {"datum": "1k", "type": "ordinal"}, "x2": {"datum": "All"}, "y": {"field": "f1", "type": "quantitative"}}},
 {"data": {"name": "scores"}, "transform": [{"filter": "datum.panel === 'TS'"}], "mark": {"type": "point", "filled": true, "opacity": 1},
  "encoding": {"x": {"field": "size", "type": "ordinal"}, "y": {"field": "f1", "type": "quantitative"}, "color": {"field": "model", "type": "nominal"},
   "shape": {"field": "model", "type": "nominal", "scale": {"domain": ["MT","MLEn","BiCF","TLM","Seq2Seq-DU","DSTC9","DSS-DST","DiCoS-DST"], "range": ["circle","triangle-up","diamond","square","circle","triangle-up","diamond","square"]}, "legend": null},
   "size": {"condition": {"test": "datum.model === 'BiCF' || datum.model === 'DSS-DST'", "value": 120}, "value": 70}}}
]},
{"title": "Attraction Slots", "width": 232, "height": 380, "layer": [
 {"data": {"name": "scores"}, "transform": [{"filter": "datum.panel === 'AS'"}], "mark": {"type": "line"},
  "encoding": {
   "x": {"field": "size", "type": "ordinal", "scale": {"type": "point", "domain": ["1k","2k","4k","8k","16k","All"], "padding": 0.25}, "axis": {"title": "Amount of ID-WOZ data"}},
   "y": {"field": "f1", "type": "quantitative", "scale": {"domain": [0.6092, 0.9226], "nice": false, "zero": false}, "axis": {"title": "F1", "values": [0.65,0.7,0.75,0.8,0.85,0.9], "format": ".2f"}},
   "color": {"field": "model", "type": "nominal", "scale": {"domain": ["MT","MLEn","BiCF","TLM","Seq2Seq-DU","DSTC9","DSS-DST","DiCoS-DST"], "range": ["#1f77b4","#ff7f0e","#2ca02c","#d62728","#9467bd","#8c564b","#e377c2","#7f7f7f"]},
    "legend": {"title": null, "labelFont": "Liberation Serif", "encode": {"symbols": {"update": {"shape": {"signal": "indexof(['MT','Seq2Seq-DU'], datum.value) >= 0 ? 'M-1,0H1M0.32,0L0.277,0.16L0.16,0.277L0,0.32L-0.16,0.277L-0.277,0.16L-0.32,0L-0.277,-0.16L-0.16,-0.277L0,-0.32L0.16,-0.277L0.277,-0.16Z' : indexof(['MLEn','DSTC9'], datum.value) >= 0 ? 'M-1,0H1M0,-0.36L0.34,0.24L-0.34,0.24Z' : indexof(['BiCF','DSS-DST'], datum.value) >= 0 ? 'M-1,0H1M0,-0.4L0.32,0L0,0.4L-0.32,0Z' : 'M-1,0H1M-0.28,-0.28H0.28V0.28H-0.28Z'"}, "strokeWidth": {"signal": "datum.value === 'BiCF' ? 3.5 : 1.5"}, "fill": {"scale": "color", "field": "value"}, "stroke": {"scale": "color", "field": "value"}, "opacity": {"value": 1}}}}}},
   "strokeWidth": {"condition": {"test": "datum.model === 'BiCF'", "value": 3.5}, "value": 1.5}}},
 {"data": {"name": "refs"}, "transform": [{"filter": "datum.panel === 'AS'"}], "mark": {"type": "rule", "color": "#ff0000", "strokeWidth": 2, "strokeDash": [7, 3]},
  "encoding": {"x": {"datum": "1k", "type": "ordinal"}, "x2": {"datum": "All"}, "y": {"field": "f1", "type": "quantitative"}}},
 {"data": {"name": "scores"}, "transform": [{"filter": "datum.panel === 'AS'"}], "mark": {"type": "point", "filled": true, "opacity": 1},
  "encoding": {"x": {"field": "size", "type": "ordinal"}, "y": {"field": "f1", "type": "quantitative"}, "color": {"field": "model", "type": "nominal"},
   "shape": {"field": "model", "type": "nominal", "scale": {"domain": ["MT","MLEn","BiCF","TLM","Seq2Seq-DU","DSTC9","DSS-DST","DiCoS-DST"], "range": ["circle","triangle-up","diamond","square","circle","triangle-up","diamond","square"]}, "legend": null},
   "size": {"condition": {"test": "datum.model === 'BiCF' || datum.model === 'DSS-DST'", "value": 120}, "value": 70}}}
]}
],
"config": {
 "font": "Liberation Serif",
 "view": {"stroke": "black", "strokeWidth": 1.8},
 "title": {"fontSize": 18, "fontWeight": "normal", "offset": 4, "color": "black", "font": "Liberation Serif", "frame": "group"},
 "axis": {"labelFontSize": 17, "titleFontSize": 18, "titleFontWeight": "normal", "labelColor": "black", "titleColor": "black", "domain": false, "tickColor": "black", "tickSize": 3.5, "tickWidth": 0.8, "grid": true, "gridColor": "#b0b0b0", "gridDash": [6, 2.5, 1.5, 2.5], "gridWidth": 0.8, "labelPadding": 2, "titlePadding": 3, "labelFont": "Liberation Serif", "titleFont": "Liberation Serif"},
 "axisX": {"labelAngle": 0, "labelPadding": -2, "titlePadding": 2.1},
 "legend": {"orient": "bottom-right", "offset": 7, "padding": 5, "fillColor": "rgba(255,255,255,0.8)", "strokeColor": "#bbbbbb", "strokeWidth": 1, "cornerRadius": 3, "labelFont": "Liberation Serif", "labelFontSize": 13.5, "labelColor": "black", "symbolSize": 900, "labelOffset": 9, "rowPadding": 0.7}
}
}
